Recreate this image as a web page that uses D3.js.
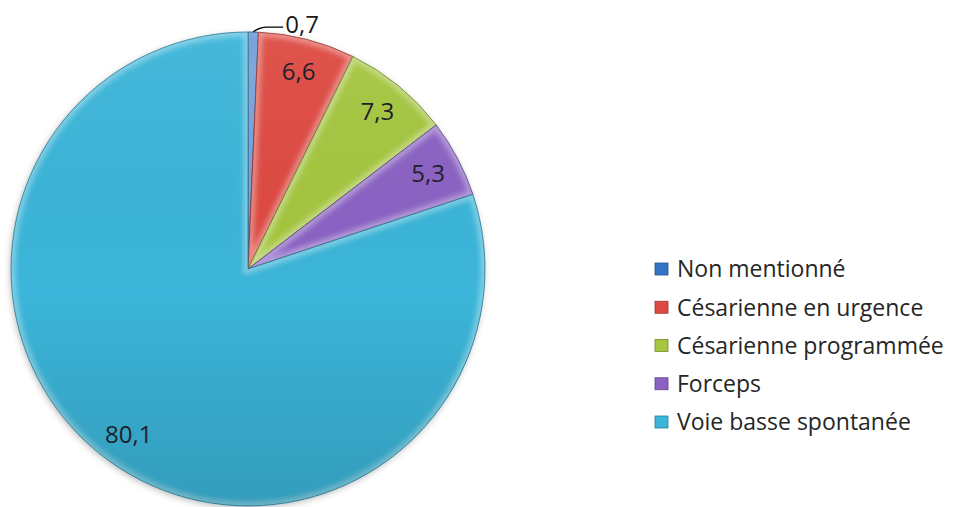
<!DOCTYPE html>
<html>
<head>
<meta charset="utf-8">
<script src="https://cdn.jsdelivr.net/npm/d3@7"></script>
<style>
  body { margin: 0; background: #fff; }
  svg { display: block; font-family: "Open Sans", sans-serif; }
</style>
</head>
<body>
<div id="chart"></div>
<script>
// data (percentages)
const categories = ["Non mentionné", "Césarienne en urgence", "Césarienne programmée", "Forceps", "Voie basse spontanée"];
const values = [0.7, 6.6, 7.3, 5.3, 80.1];
const valueLabels = ["0,7", "6,6", "7,3", "5,3", "80,1"];
const colors = ["#3472c6", "#de4a42", "#a5c640", "#8b62c4", "#3bb5d9"];

const width = 953, height = 507;
const cx = 248, cy = 269, radius = 237;

const svg = d3.select("#chart").append("svg")
  .attr("width", width)
  .attr("height", height);

const defs = svg.append("defs");

// soft blur used for the bevel rim
defs.append("filter").attr("id", "soft")
  .attr("x", "-20%").attr("y", "-20%").attr("width", "140%").attr("height", "140%")
  .append("feGaussianBlur").attr("stdDeviation", 2.5);

const shadow = defs.append("filter").attr("id", "shadow")
  .attr("x", "-10%").attr("y", "-10%").attr("width", "120%").attr("height", "120%");
shadow.append("feDropShadow")
  .attr("dx", -1).attr("dy", 2).attr("stdDeviation", 3)
  .attr("flood-color", "#000").attr("flood-opacity", 0.25);

// top-light / bottom-dark shading over the whole pie
const shade = defs.append("linearGradient").attr("id", "shade")
  .attr("x1", 0).attr("y1", 0).attr("x2", 0).attr("y2", 1);
shade.append("stop").attr("offset", "0%").attr("stop-color", "#fff").attr("stop-opacity", 0.06);
shade.append("stop").attr("offset", "55%").attr("stop-color", "#000").attr("stop-opacity", 0.0);
shade.append("stop").attr("offset", "100%").attr("stop-color", "#000").attr("stop-opacity", 0.14);

const pie = d3.pie().sort(null).value(d => d);
const arcs = pie(values);
const arc = d3.arc().innerRadius(0).outerRadius(radius);
const labelArc = d3.arc().innerRadius(radius * 0.86).outerRadius(radius * 0.86);

const g = svg.append("g").attr("transform", `translate(${cx},${cy})`);

// shadow base
g.append("circle").attr("r", radius).attr("fill", "#fff").attr("filter", "url(#shadow)");

arcs.forEach((a, i) => {
  defs.append("clipPath").attr("id", "clip" + i)
    .append("path").attr("d", arc(a));

  const slice = g.append("g");
  slice.append("path")
    .attr("d", arc(a))
    .attr("fill", colors[i]);

  // light bevel rim inside the slice
  slice.append("path")
    .attr("d", arc(a))
    .attr("fill", "none")
    .attr("stroke", "#fff")
    .attr("stroke-opacity", 0.35)
    .attr("stroke-width", 9)
    .attr("clip-path", `url(#clip${i})`)
    .attr("filter", "url(#soft)");

  slice.append("path")
    .attr("d", arc(a))
    .attr("fill", "none")
    .attr("stroke", d3.color(colors[i]).darker(1.2))
    .attr("stroke-width", 0.8);
});

g.append("circle").attr("r", radius).attr("fill", "url(#shade)").attr("pointer-events", "none");

// value labels
arcs.forEach((a, i) => {
  if (values[i] < 2) {
    // small slice: label outside with a leader line
    const edge = d3.arc().innerRadius(radius).outerRadius(radius).centroid(a);
    const ex = edge[0], ey = edge[1];
    g.append("path")
      .attr("d", `M${ex},${ey} Q${ex + 6},${ey - 5} ${ex + 14},${ey - 5} L${ex + 30},${ey - 5}`)
      .attr("fill", "none")
      .attr("stroke", "#000")
      .attr("stroke-width", 1.3);
    g.append("text")
      .attr("x", ex + 32)
      .attr("y", ey - 7)
      .attr("dy", "0.35em")
      .attr("font-size", 24)
      .attr("fill", "#1a1a1a")
      .text(valueLabels[i]);
  } else {
    const c = labelArc.centroid(a);
    g.append("text")
      .attr("x", c[0])
      .attr("y", c[1])
      .attr("dy", "0.35em")
      .attr("text-anchor", "middle")
      .attr("font-size", 24)
      .attr("fill", "#1f1f2a")
      .text(valueLabels[i]);
  }
});

// legend
const legendY = d3.scalePoint().domain(categories).range([269, 422]);
const legend = svg.append("g");
categories.forEach((c, i) => {
  const y = legendY(c);
  legend.append("rect")
    .attr("x", 655).attr("y", y - 6)
    .attr("width", 13).attr("height", 12)
    .attr("fill", colors[i])
    .attr("stroke", d3.color(colors[i]).darker(1))
    .attr("stroke-width", 0.8);
  legend.append("text")
    .attr("x", 677).attr("y", y)
    .attr("dy", "0.36em")
    .attr("font-size", 23)
    .attr("fill", "#262626")
    .text(c);
});
</script>
</body>
</html>
